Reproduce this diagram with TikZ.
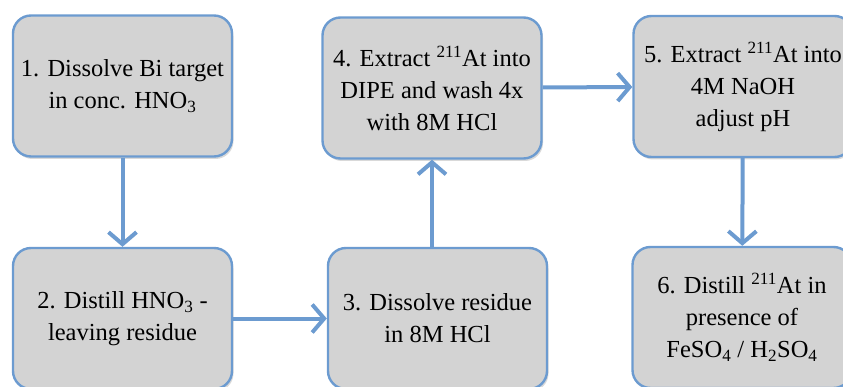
\documentclass[tikz,border=0pt]{standalone}
\usepackage{fontspec}
\setmainfont{Liberation Serif}
\usetikzlibrary{arrows.meta,shadows}

\definecolor{stepline}{RGB}{108,155,208}
\definecolor{stepfill}{RGB}{211,211,211}

\tikzset{
  stepbox/.style={draw=stepline, fill=stepfill, line width=2.4pt,
    rounded corners=18pt, minimum width=219pt, minimum height=141pt,
    align=center, font=\fontsize{24.5}{32}\selectfont,
    drop shadow={opacity=0.3, shadow xshift=1.5pt, shadow yshift=-2.5pt}},
  flow/.style={draw=stepline, line width=4pt,
    -{Straight Barb[length=12pt,width=28pt,line width=4pt]}}
}

\begin{document}
\begin{tikzpicture}[x=1pt,y=1pt]
  \useasboundingbox (0,0) rectangle (843,-387);

  % top row
  \node[stepbox] (b1) at (122.5,-86) {1. Dissolve Bi target\\in conc. HNO\textsubscript{3}};
  \node[stepbox] (b4) at (432,-88) {4. Extract \textsuperscript{211}At into\\DIPE and wash 4x\\with 8M HCl};
  \node[stepbox] (b5) at (743,-86.5) {5. Extract \textsuperscript{211}At into\\4M NaOH\\adjust pH};

  % bottom row
  \node[stepbox] (b2) at (122.5,-318.5) {2. Distill HNO\textsubscript{3} -\\leaving residue};
  \node[stepbox] (b3) at (437.5,-318.5) {3. Dissolve residue\\in 8M HCl};
  \node[stepbox] (b6) at (742,-317.5) {6. Distill \textsuperscript{211}At in\\presence of\\FeSO\textsubscript{4} / H\textsubscript{2}SO\textsubscript{4}};

  % connectors
  \draw[flow] (b1) -- (b2);
  \draw[flow] (b2) -- (b3);
  \draw[flow] (b4.south |- b3.north) -- (b4.south);
  \draw[flow] (b4) -- (b5);
  \draw[flow] (b5) -- (b6);
\end{tikzpicture}
\end{document}
